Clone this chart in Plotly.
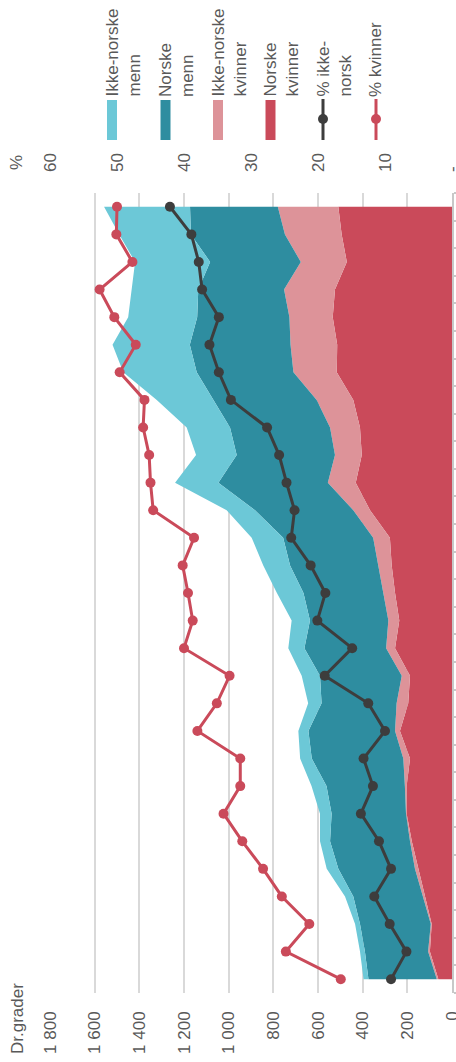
import plotly.graph_objects as go

# ---------------- data (chronological, bottom -> top of the picture) ----------------
years = list(range(1990, 2019))

norske_kvinner = [61, 99, 91, 121, 151, 180, 203, 203, 188, 233, 196, 188, 255, 236, 255,
                  270, 278, 367, 431, 404, 412, 442, 516, 514, 534, 524, 471, 494, 509]
ikke_norske_kvinner = [7, 8, 4, 8, 15, 8, 3, 8, 30, 22, 52, 37, 40, 49, 52,
                       60, 75, 75, 125, 120, 134, 164, 194, 209, 194, 228, 206, 254, 271]
norske_menn = [306, 283, 317, 313, 343, 358, 333, 351, 410, 388, 336, 366, 366, 351, 358,
               395, 403, 440, 490, 440, 448, 463, 433, 451, 413, 384, 406, 421, 393]
ikke_norske_menn = [22, 22, 22, 37, 52, 45, 52, 67, 52, 45, 60, 82, 72, 82, 119,
                    120, 141, 127, 194, 182, 194, 253, 329, 346, 309, 298, 336, 321, 385]

pst_ikke_norsk = [9.1, 6.8, 9.3, 11.6, 9.1, 10.9, 13.6, 11.8, 13.2, 10.0, 12.5, 19.0, 14.9, 20.1, 18.9,
                  21.1, 24.0, 23.5, 24.7, 25.8, 27.6, 33.0, 34.8, 36.2, 34.8, 37.3, 37.8, 38.9, 42.1]
pst_kvinner = [16.6, 24.8, 21.3, 25.4, 28.2, 31.3, 34.1, 31.6, 31.6, 38.0, 35.1, 33.2, 40.0, 38.7, 39.4,
               40.2, 38.5, 44.6, 45.0, 45.2, 46.1, 45.9, 49.6, 47.2, 50.4, 52.6, 47.7, 50.1, 50.0]

dr_tickvals = [0, 200, 400, 600, 800, 1000, 1200, 1400, 1600, 1800]
dr_ticktext = ["0", "200", "400", "600", "800", "1 000", "1 200", "1 400", "1 600", "1 800"]
pst_tickvals = [0, 10, 20, 30, 40, 50, 60]
pst_ticktext = ["-", "10", "20", "30", "40", "50", "60"]

legend_labels = ["Ikke-norske<br>menn", "Norske<br>menn", "Ikke-norske<br>kvinner",
                 "Norske<br>kvinner", "% ikke-<br>norsk", "% kvinner"]

# ---------------- styles ----------------
C_LTEAL = "#6CC8D7"
C_DTEAL = "#2E8DA0"
C_PINK = "#DD9399"
C_RED = "#CA4A5A"
C_GRAY = "#3D3D3D"
TXT = "#595959"
FONT = "Liberation Sans, Arial, sans-serif"
FS = 17

W, H = 456, 1062
L, R, T, B = 50, 4, 193, 69
PW, PH = W - L - R, H - T - B


def px_x(px):
    return (px - L) / PW


def px_y(py):
    return (H - B - py) / PH


fig = go.Figure()

area_series = [
    (norske_kvinner, C_RED),
    (ikke_norske_kvinner, C_PINK),
    (norske_menn, C_DTEAL),
    (ikke_norske_menn, C_LTEAL),
]
for vals, col in area_series:
    fig.add_trace(go.Scatter(
        x=vals, y=years, mode="lines", stackgroup="dr", orientation="h",
        line=dict(width=0, color=col), fillcolor=col, showlegend=False,
        hoverinfo="skip", xaxis="x", yaxis="y"))

for vals, col in [(pst_ikke_norsk, C_GRAY), (pst_kvinner, C_RED)]:
    fig.add_trace(go.Scatter(
        x=vals, y=years, mode="lines+markers", xaxis="x2", yaxis="y",
        line=dict(color=col, width=3), marker=dict(color=col, size=10),
        showlegend=False, hoverinfo="skip"))

fig.update_layout(
    width=W, height=H,
    margin=dict(l=L, r=R, t=T, b=B, autoexpand=False),
    plot_bgcolor="white", paper_bgcolor="white",
    font=dict(family=FONT, size=FS, color=TXT),
    xaxis=dict(range=[1800, 0], tickvals=dr_tickvals, ticktext=dr_ticktext,
               tickangle=-90, showgrid=True, gridcolor="#D9D9D9", gridwidth=1.5,
               zeroline=False, showline=False, ticks="", ticklabelstandoff=14,
               ticklabeloverflow="allow", automargin=False,
               tickfont=dict(size=FS, color=TXT)),
    xaxis2=dict(range=[60, 0], tickvals=pst_tickvals, ticktext=pst_ticktext,
                overlaying="x", side="top", anchor="y", tickangle=-90,
                showgrid=False, zeroline=False, showline=False, ticks="",
                ticklabelstandoff=20, ticklabeloverflow="allow", automargin=False,
                tickfont=dict(size=FS, color=TXT)),
    yaxis=dict(range=[years[0] - 0.5, years[-1] + 0.5], side="right",
               showgrid=False, zeroline=False, showline=True, linecolor="#C8C8C8",
               linewidth=1.5, ticks="outside", ticklen=4, tickcolor="#C8C8C8",
               tickwidth=1.5, automargin=False,
               tickvals=[y - 0.5 for y in years] + [years[-1] + 0.5],
               showticklabels=False),
)

# axis titles
fig.add_annotation(text="Dr.grader", xref="paper", yref="paper",
                   x=px_x(6), y=px_y(1056), xanchor="left", yanchor="bottom",
                   textangle=-90, showarrow=False, font=dict(size=FS, color=TXT))
fig.add_annotation(text="%", xref="paper", yref="paper",
                   x=px_x(5), y=px_y(172), xanchor="left", yanchor="bottom",
                   textangle=-90, showarrow=False, font=dict(size=FS, color=TXT))

# custom rotated legend
leg_x = [112, 165.5, 218, 270.5, 323, 376]
leg_cols = [C_LTEAL, C_DTEAL, C_PINK, C_RED, C_GRAY, C_RED]
for i, (cx, col, lab) in enumerate(zip(leg_x, leg_cols, legend_labels)):
    if i < 4:
        fig.add_shape(type="rect", xref="paper", yref="paper",
                      x0=px_x(cx - 5), x1=px_x(cx + 5), y0=px_y(140), y1=px_y(100),
                      fillcolor=col, line=dict(width=0))
    else:
        fig.add_shape(type="line", xref="paper", yref="paper",
                      x0=px_x(cx), x1=px_x(cx), y0=px_y(140), y1=px_y(99),
                      line=dict(color=col, width=3))
        fig.add_shape(type="circle", xref="paper", yref="paper",
                      x0=px_x(cx - 5), x1=px_x(cx + 5), y0=px_y(124), y1=px_y(114),
                      fillcolor=col, line=dict(width=0))
    fig.add_annotation(text=lab, xref="paper", yref="paper",
                       x=px_x(cx - 12), y=px_y(99), xanchor="left", yanchor="bottom",
                       textangle=-90, align="left", showarrow=False,
                       font=dict(size=FS, color=TXT))

fig.write_html(
    "out.html",
    config={"displayModeBar": False},
    post_script="document.body.style.margin='0';document.body.style.overflow='hidden';",
)
